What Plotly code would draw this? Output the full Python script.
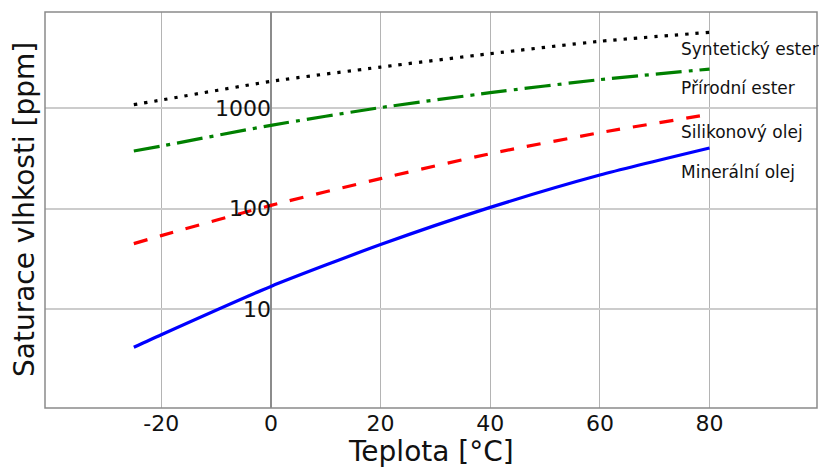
import plotly.graph_objects as go

# Data
teplota = [-25, -20, 0, 20, 40, 60, 80]
mineralni_olej = [4.2, 5.6, 16.9, 44, 103, 216, 401]
silikonovy_olej = [45, 54, 108, 199, 352, 569, 865]
prirodni_ester = [374, 419, 673, 1010, 1420, 1915, 2440]
synteticky_ester = [1080, 1200, 1840, 2550, 3470, 4600, 5650]

x_ticks = [-20, 0, 20, 40, 60, 80]
x_tick_text = ["-20", "0", "20", "40", "60", "80"]
y_ticks = [10, 100, 1000]
y_tick_text = ["10", "100", "1000"]

series = [
    ("Minerální olej", mineralni_olej, "#0000ff", "solid", 2.364),
    ("Silikonový olej", silikonovy_olej, "#ff0000", "14px,13px", 2.76),
    ("Přírodní ester", prirodni_ester, "#008000", "26px,7px,4px,7px", 3.203),
    ("Syntetický ester", synteticky_ester, "#000000", "3.3px,7px", 3.59),
]

FONT = "DejaVu Sans"
xmin, xmax = -41.2, 99.6

fig = go.Figure()
for name, vals, color, dash, _ in series:
    fig.add_trace(go.Scatter(
        x=teplota, y=vals, mode="lines", name=name,
        line=dict(color=color, width=3.2, dash=dash, shape="spline", smoothing=0.6),
        showlegend=False,
    ))

for name, vals, color, dash, ly in series:
    fig.add_annotation(
        x=74.4, y=ly, xref="x", yref="y", text=name, showarrow=False,
        xanchor="left", yanchor="middle",
        font=dict(family=FONT, size=17, color="#111111"),
    )

# axis titles
fig.add_annotation(
    x=0, y=0.5, xref="paper", yref="paper", text="Saturace vlhkosti [ppm]",
    textangle=-90, showarrow=False, xanchor="center", yanchor="middle", xshift=-21,
    font=dict(family=FONT, size=28, color="#111111"),
)
fig.add_annotation(
    x=0.5, y=0, xref="paper", yref="paper", text="Teplota [°C]",
    showarrow=False, xanchor="center", yanchor="middle", yshift=-43,
    font=dict(family=FONT, size=28, color="#111111"),
)

# plot frame
fig.add_shape(type="rect", xref="paper", yref="paper", x0=0, y0=0, x1=1, y1=1,
              line=dict(color="#8a8a8a", width=1.5), layer="above")

fig.update_layout(
    width=819, height=468,
    margin=dict(l=45, r=2, t=12, b=60),
    paper_bgcolor="white", plot_bgcolor="white",
    font=dict(family=FONT, color="#111111"),
    xaxis=dict(
        range=[xmin, xmax], tickvals=x_ticks, ticktext=x_tick_text, ticks="",
        showgrid=True, gridcolor="#b4b4b4", gridwidth=1,
        zeroline=True, zerolinecolor="#8c8c8c", zerolinewidth=1.5,
        showline=False, tickfont=dict(family=FONT, size=22, color="#111111"),
    ),
    yaxis=dict(
        type="log", range=[0.02, 3.954], tickvals=y_ticks, ticktext=y_tick_text,
        ticks="", showgrid=True, gridcolor="#cccccc", gridwidth=1.5,
        zeroline=False, showline=False,
        anchor="free", position=(0 - xmin) / (xmax - xmin),
        tickfont=dict(family=FONT, size=22, color="#111111"),
    ),
)

fig.write_html("out.html")
